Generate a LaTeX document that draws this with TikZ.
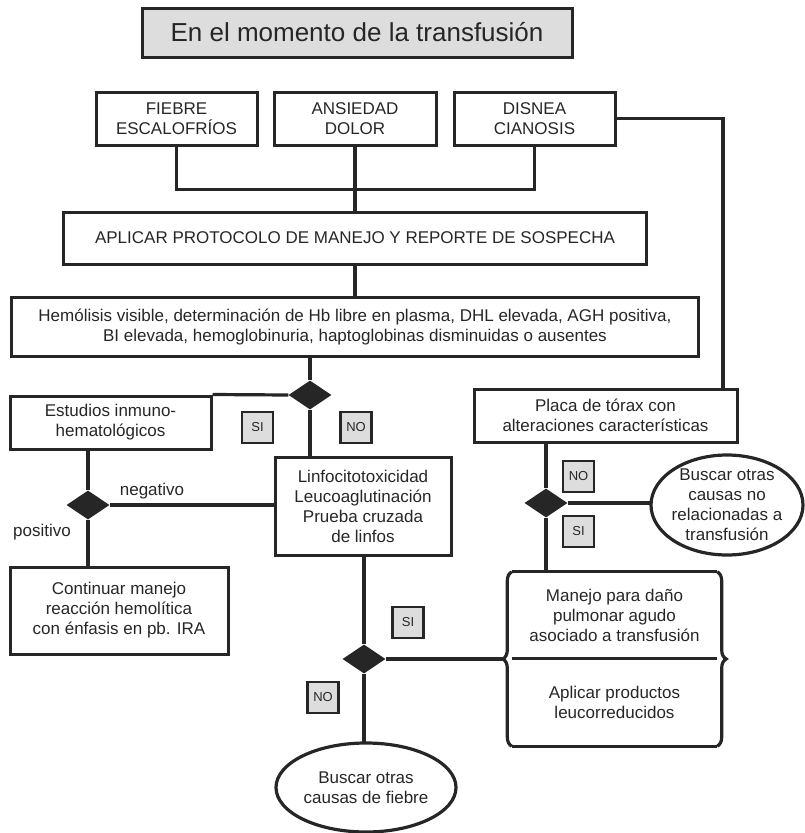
\documentclass[tikz,border=0pt]{standalone}
\usepackage{fontspec}
\setmainfont{Liberation Sans}
\usetikzlibrary{shapes.geometric,decorations.pathreplacing}
\definecolor{ink}{HTML}{262626}
\definecolor{lab}{HTML}{DDDDDD}
\begin{document}
\begin{tikzpicture}[x=1pt,y=-1pt,
  box/.style={draw=ink,line width=3pt,align=center,inner sep=0pt,text=ink,font=\fontsize{17}{20}\selectfont},
  txt/.style={align=center,inner sep=0pt,text=ink,font=\fontsize{17}{20}\selectfont},
  tag/.style={draw=ink,line width=2.2pt,fill=lab,minimum size=31pt,inner sep=0pt,text=ink,font=\fontsize{13}{15}\selectfont},
  dec/.style={diamond,fill=ink,minimum width=43pt,minimum height=29pt,inner sep=0pt},
  con/.style={draw=ink,line width=3.2pt}]
\useasboundingbox (0,0) rectangle (804,833);

\node[box,fill=lab,minimum width=430pt,minimum height=49pt,font=\fontsize{26}{30}\selectfont] (tit) at (357,32.5) {En el momento de la transfusión};

\node[box,minimum width=161pt,minimum height=53pt] (fie) at (176.5,118.5) {FIEBRE\\ESCALOFRÍOS};
\node[box,minimum width=162pt,minimum height=53pt] (ans) at (355,118.5) {ANSIEDAD\\DOLOR};
\node[box,minimum width=161pt,minimum height=53pt] (dis) at (534.5,118.5) {DISNEA\\CIANOSIS};
\path[con] (fie.south) -- ++(0,43) -| (dis.south);

\node[box,minimum width=583pt,minimum height=52pt] (apl) at (355,238) {APLICAR PROTOCOLO DE MANEJO Y REPORTE DE SOSPECHA};
\path[con] (ans.south) -- (apl.north);

\node[box,minimum width=687pt,minimum height=59pt] (hem) at (355,326.5) {Hemólisis visible, determinación de Hb libre en plasma, DHL elevada, AGH positiva,\\BI elevada, hemoglobinuria, haptoglobinas disminuidas o ausentes};
\path[con] (apl.south) -- (hem.north);

\node[dec] (q1) at (310,395) {};
\path[con] (q1.north) -- (q1 |- hem.south);
\node[box,minimum width=201pt,minimum height=53pt] (est) at (110.5,422.5) {Estudios inmuno-\\hematológicos};
\path[con] (q1.west) -- (est.north east);
\node[box,minimum width=176pt,minimum height=98pt] (lin) at (363,506) {Linfocitotoxicidad\\Leucoaglutinación\\Prueba cruzada\\de linfos};
\path[con] (q1.south) -- (q1 |- lin.north);
\node[tag] (s1) at (257.5,427.5) {SI};
\node[tag] (n1) at (356,427.5) {NO};

\node[dec] (q2) at (88,505) {};
\path[con] (q2.north) -- (q2 |- est.south);
\path[con] (q2.east) -- (q2 -| lin.west);
\node[txt] (neg) at (152,491) {negativo};
\node[txt] (pos) at (42,532) {positivo};
\node[box,minimum width=218pt,minimum height=87pt] (cnt) at (119,610.5) {Continuar manejo\\reacción hemolítica\\con énfasis en pb. IRA};
\path[con] (q2.south) -- (q2 |- cnt.north);

\node[box,minimum width=263pt,minimum height=53pt] (pla) at (605.5,415.5) {Placa de tórax con\\alteraciones características};
\coordinate (k) at (723,118.5);
\path[con] (dis.east) -- (k) -- (k |- pla.north);

\node[dec] (q3) at (546,503) {};
\path[con] (q3.north) -- (q3 |- pla.south);
\node[tag] (n2) at (578.5,476.5) {NO};
\node[tag] (s2) at (578.5,531.5) {SI};
\node[txt,minimum width=152pt,minimum height=100pt] (bo1) at (727,505) {Buscar otras\\causas no\\relacionadas a\\transfusión};
\path[con] (bo1) ellipse [x radius=76pt, y radius=50pt];
\path[con] (q3.east) -- (q3 -| bo1.west);

\node[txt,minimum width=205pt,minimum height=86pt] (man) at (614.5,615) {Manejo para daño\\pulmonar agudo\\asociado a transfusión};
\node[txt,minimum width=205pt,minimum height=88pt] (apr) at (614.5,702) {Aplicar productos\\leucorreducidos};
\path[con] (man.north west) -- (man.north east);
\path[con] (man.south west) -- (man.south east);
\path[con] (apr.south west) -- (apr.south east);
\path[con,decorate,decoration={brace,amplitude=9pt}] (apr.south west) -- (man.north west);
\path[con,decorate,decoration={brace,amplitude=9pt}] (man.north east) -- (apr.south east);
\path[con] (q3.south) -- (q3 |- man.north);

\node[dec] (q4) at (364,659) {};
\path[con] (q4.north) -- (q4 |- lin.south);
\path[con] (q4.east) -- ([xshift=-9pt]q4 -| man.west);
\node[tag] (s3) at (408,622.5) {SI};
\node[tag] (n3) at (323,697.5) {NO};
\node[txt,minimum width=180pt,minimum height=89pt] (bo2) at (366,787.5) {Buscar otras\\causas de fiebre};
\path[con] (bo2) ellipse [x radius=90pt, y radius=44.5pt];
\path[con] (q4.south) -- (q4 |- bo2.north);
\end{tikzpicture}
\end{document}
